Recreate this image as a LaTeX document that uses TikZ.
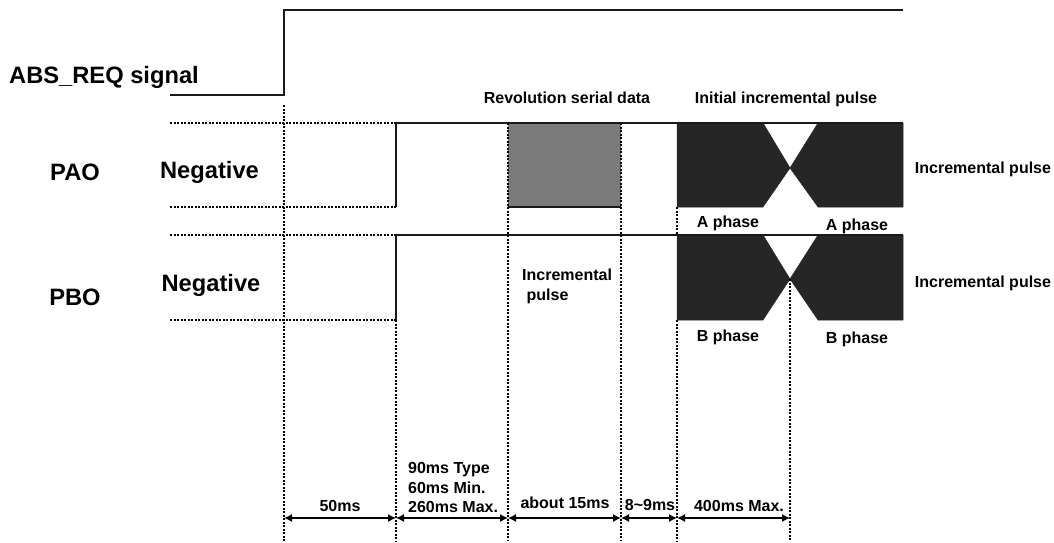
\documentclass[tikz,border=0pt]{standalone}
\usepackage{fontspec}
\setmainfont{Liberation Sans}
\usetikzlibrary{arrows.meta,patterns}
\definecolor{hatchc}{HTML}{262626}
\definecolor{greyc}{HTML}{7A7A7A}
\tikzset{
  sig/.style={line width=1.05pt,black!90},
  dot/.style={line width=1.5pt,black,dash pattern=on 2pt off 1.5pt},
  dim/.style={line width=1.2pt,black,{Latex[length=8pt,width=8pt]}-{Latex[length=8pt,width=8pt]}},
  big/.style={font=\fontsize{23.7}{28}\selectfont\bfseries,inner sep=0pt},
  mid/.style={font=\fontsize{23.7}{28}\selectfont\bfseries,inner sep=0pt},
  small/.style={font=\fontsize{16}{19.6}\selectfont\bfseries,inner sep=0pt},
  burst/.style={fill=hatchc,draw=hatchc,line width=.5pt},
}
\begin{document}
\begin{tikzpicture}[x=1pt,y=-1pt]
\useasboundingbox (0,0) rectangle (1054,543);
% shaded areas
\fill[greyc] (508,123) rectangle (621,207);
\draw[burst] (677,123) -- (763,123) -- (790,168) -- (763,207) -- (677,207) -- cycle;
\draw[burst] (903,123) -- (818,123) -- (790,168) -- (818,207) -- (903,207) -- cycle;
\draw[burst] (677,235) -- (763,235) -- (790,279) -- (763,320) -- (677,320) -- cycle;
\draw[burst] (903,235) -- (818,235) -- (790,279) -- (818,320) -- (903,320) -- cycle;
% coordinates
\coordinate (s0) at (170,95); \coordinate (s1) at (284,95); \coordinate (s2) at (284,10); \coordinate (s3) at (903,10);
\coordinate (a0) at (170,123); \coordinate (a1) at (396,123); \coordinate (a2) at (903,123);
\coordinate (a3) at (170,207); \coordinate (a4) at (396,207);
\coordinate (b0) at (170,235); \coordinate (b1) at (396,235); \coordinate (b2) at (903,235);
\coordinate (b3) at (170,320); \coordinate (b4) at (396,320);
\coordinate (v1t) at (284,105); \coordinate (v1b) at (284,541);
\coordinate (v2b) at (396,541);
\coordinate (v3t) at (508,123); \coordinate (v3m) at (508,207); \coordinate (v3b) at (508,541);
\coordinate (v4t) at (621,123); \coordinate (v4m) at (621,207); \coordinate (v4b) at (621,541);
\coordinate (v5t) at (677,207); \coordinate (v5m) at (677,235); \coordinate (v5n) at (677,320); \coordinate (v5b) at (677,541);
\coordinate (v6t) at (790,279); \coordinate (v6b) at (790,541);
\coordinate (d1) at (284,518); \coordinate (d2) at (396,518); \coordinate (d3) at (508,518);
\coordinate (d4) at (621,518); \coordinate (d5) at (677,518); \coordinate (d6) at (790,518);
% signals
\draw[sig] (s0) -- (s1) -- (s2) -- (s3);
\draw[sig] (a4) -- (a1) -- (a2);
\draw[sig] (b4) -- (b1) -- (b2);
\draw[sig] (v3m) -- (v4m);
% dotted lines
\draw[dot] (a0) -- (a1);
\draw[dot] (a3) -- (a4);
\draw[dot] (b0) -- (b1);
\draw[dot] (b3) -- (b4);
\draw[dot] (v1t) -- (v1b);
\draw[dot] (b4) -- (v2b);
\draw[dot] (v3t) -- (v3b);
\draw[dot] (v4t) -- (v4b);
\draw[dot] (v5t) -- (v5m);
\draw[dot] (v5n) -- (v5b);
\draw[dot] (v6t) -- (v6b);
% dimensions
\draw[dim] (d1) -- (d2);
\draw[dim] (d2) -- (d3);
\draw[dim] (d3) -- (d4);
\draw[dim] (d4) -- (d5);
\draw[dim] (d5) -- (d6);
% labels
\node[mid] (tabs) at (104,77) {ABS\_REQ signal};
\node[mid] (tpao) at (75,172) {PAO};
\node[mid] (tpbo) at (75,297) {PBO};
\node[big] (tn1) at (209.5,172) {Negative};
\node[big] (tn2) at (211,285) {Negative};
\node[small] (trev) at (567,97.5) {Revolution serial data};
\node[small] (tini) at (786,99) {Initial incremental pulse};
\node[small] (tip1) at (983,169) {Incremental pulse};
\node[small] (tip2) at (983,283) {Incremental pulse};
\node[small] (tpa1) at (728,223) {A phase};
\node[small] (tpa2) at (857,226) {A phase};
\node[small] (tpb1) at (728,337) {B phase};
\node[small] (tpb2) at (857,339) {B phase};
\node[small,align=left,anchor=north west] (tinc) at (522,269) {Incremental\\[0pt]\ pulse};
\node[small] (t50) at (340,506) {50ms};
\node[small,align=left,anchor=south west] (t90) at (408,513) {90ms Type\\60ms Min.\\260ms Max.};
\node[small] (t15) at (565,503) {about 15ms};
\node[small] (t8) at (650,505) {8\textasciitilde9ms};
\node[small] (t400) at (739,506) {400ms Max.};
\end{tikzpicture}
\end{document}
